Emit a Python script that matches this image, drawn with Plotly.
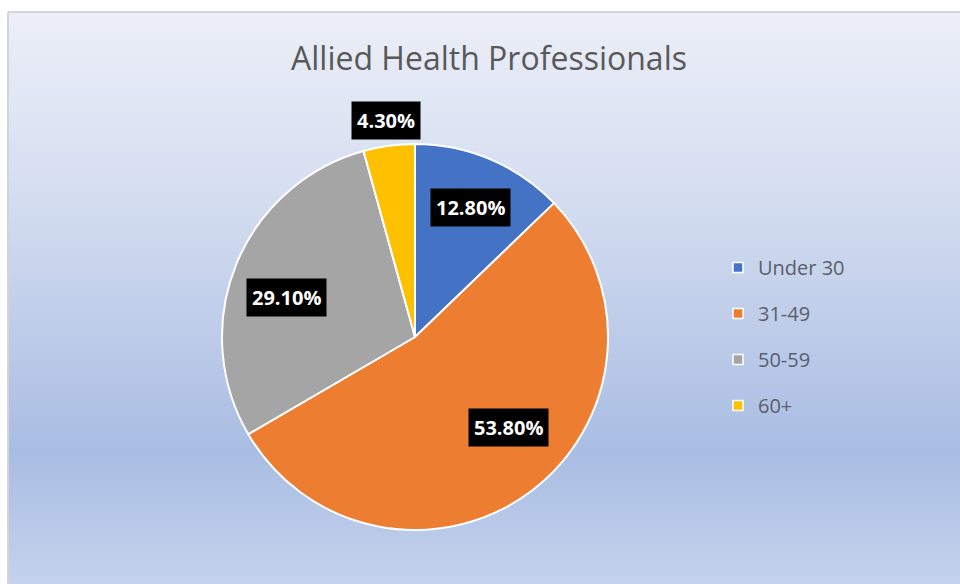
import math
import plotly.graph_objects as go

# data
labels = ["Under 30", "31-49", "50-59", "60+"]
values = [12.8, 53.8, 29.1, 4.3]
colors = ["#4472C4", "#ED7D31", "#A5A5A5", "#FFC000"]

W, H = 960, 584
CX, CY, R = 415, 337, 193
FONT = "Open Sans, Lato, sans-serif"

# label placement (fraction of radius, angle nudge in degrees)
label_r = [0.73, 0.675, 0.695, 1.13]
label_nudge = [0, -9, -5, 0]

fig = go.Figure()

# gradient background built from thin bands
stops = [(12, (236, 239, 248)), (200, (212, 221, 240)), (450, (169, 189, 227)), (584, (196, 210, 237))]


def grad_color(y):
    for (y0, c0), (y1, c1) in zip(stops[:-1], stops[1:]):
        if y0 <= y <= y1:
            t = (y - y0) / (y1 - y0)
            return "rgb(%d,%d,%d)" % tuple(round(a + (b - a) * t) for a, b in zip(c0, c1))
    return "rgb(%d,%d,%d)" % stops[-1][1]


shapes = []
step = 4
for y in range(12, H, step):
    shapes.append(dict(
        type="rect", xref="paper", yref="paper", layer="below",
        x0=8 / W, x1=1, y0=1 - (y + step) / H, y1=1 - y / H,
        fillcolor=grad_color(y + step / 2), line=dict(width=0),
    ))
shapes.append(dict(type="line", xref="paper", yref="paper", x0=8 / W, x1=1,
                   y0=1 - 12 / H, y1=1 - 12 / H, line=dict(color="#d2d4d8", width=2)))
shapes.append(dict(type="line", xref="paper", yref="paper", x0=8 / W, x1=8 / W,
                   y0=0, y1=1 - 12 / H, line=dict(color="#d2d4d8", width=2)))

fig.add_trace(
    go.Pie(
        labels=labels,
        values=values,
        sort=False,
        direction="clockwise",
        rotation=0,
        marker=dict(colors=colors, line=dict(color="white", width=2)),
        textinfo="none",
        hoverinfo="label+percent",
        showlegend=False,
        domain=dict(x=[(CX - R) / W, (CX + R) / W], y=[1 - (CY + R) / H, 1 - (CY - R) / H]),
    )
)

# legend entries as dummy traces so the spacing can be set
for lab, col in zip(labels, colors):
    fig.add_trace(
        go.Scatter(
            x=[None], y=[None], mode="markers", name=lab, legendgroup=lab,
            marker=dict(symbol="square", size=10, color=col, line=dict(color="white", width=1.5)),
        )
    )

# percentage labels with black boxes
annotations = []
total = sum(values)
cum = 0
for v, rf, nudge in zip(values, label_r, label_nudge):
    mid = (cum + v / 2) / total * 360 + nudge
    cum += v
    a = math.radians(mid)
    px = CX + rf * R * math.sin(a)
    py = CY - rf * R * math.cos(a)
    annotations.append(dict(
        x=px / W, y=1 - py / H, xref="paper", yref="paper",
        xanchor="center", yanchor="middle",
        text="<b>%.2f%%</b>" % v, showarrow=False,
        font=dict(family=FONT, size=20, color="white"),
        bgcolor="black", borderpad=5,
    ))

annotations.append(dict(
    x=489 / W, y=1 - 58 / H, xref="paper", yref="paper",
    xanchor="center", yanchor="middle",
    text="Allied Health Professionals", showarrow=False,
    font=dict(family=FONT, size=32, color="#595959"),
))

fig.update_layout(
    width=W,
    height=H,
    margin=dict(l=0, r=0, t=0, b=0),
    paper_bgcolor="white",
    plot_bgcolor="rgba(0,0,0,0)",
    shapes=shapes,
    annotations=annotations,
    xaxis=dict(visible=False),
    yaxis=dict(visible=False),
    showlegend=True,
    legend=dict(
        x=718 / W, y=1 - 248 / H, xanchor="left", yanchor="top",
        bgcolor="rgba(0,0,0,0)",
        font=dict(family=FONT, size=20, color="#5a5f6b"),
        tracegroupgap=17,
        itemwidth=30,
    ),
)

fig.write_html("out.html", config={"displayModeBar": False},
               post_script="document.body.style.margin='0';")
